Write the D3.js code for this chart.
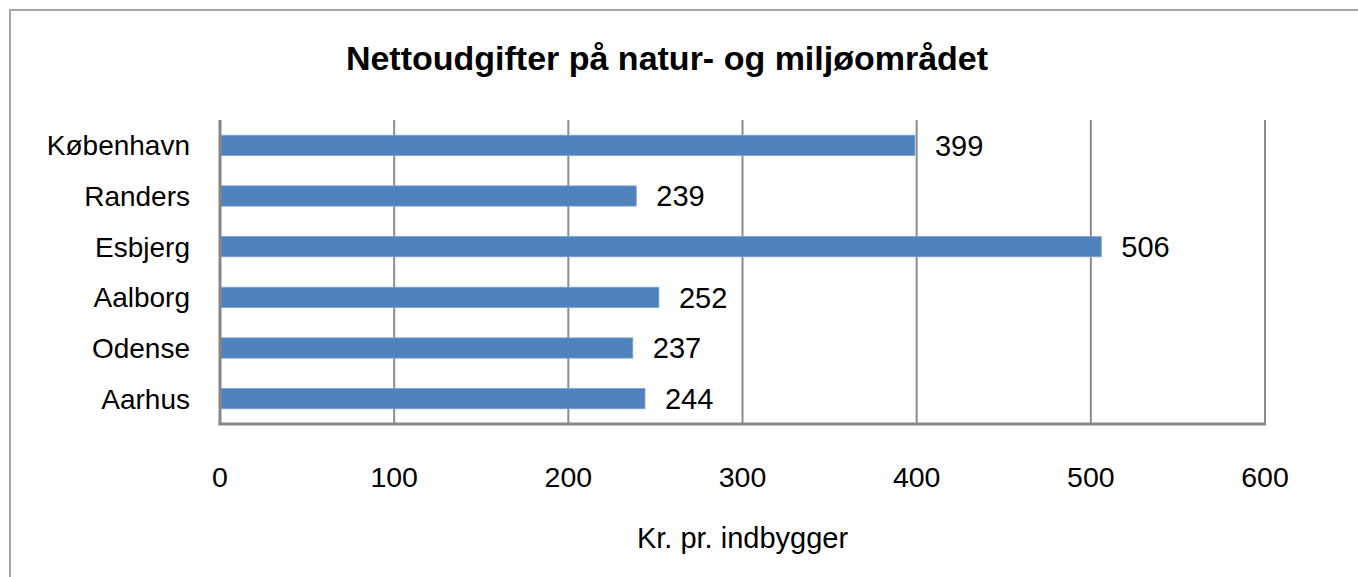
<!DOCTYPE html>
<html>
<head>
<meta charset="utf-8">
<script src="https://cdn.jsdelivr.net/npm/d3@7"></script>
<style>
  html, body { margin: 0; padding: 0; background: #fff; }
  svg { display: block; }
  text { font-family: "Liberation Sans", Arial, sans-serif; fill: #000; }
</style>
</head>
<body>
<svg id="chart" width="1358" height="577"></svg>
<script>
const categories = ["København", "Randers", "Esbjerg", "Aalborg", "Odense", "Aarhus"];
const values = [399, 239, 506, 252, 237, 244];
const tickValues = [0, 100, 200, 300, 400, 500, 600];
const title = "Nettoudgifter på natur- og miljøområdet";
const xTitle = "Kr. pr. indbygger";

const svg = d3.select("#chart");
const plot = { left: 220, right: 1265, top: 120, bottom: 424 };

// outer chart border (extends past right/bottom edges)
svg.append("rect")
  .attr("x", 10).attr("y", 10)
  .attr("width", 1400).attr("height", 700)
  .attr("fill", "none").attr("stroke", "#a6a6a6").attr("stroke-width", 2);

const x = d3.scaleLinear().domain([0, 600]).range([plot.left, plot.right]);
const y = d3.scaleBand().domain(categories).range([plot.top, plot.bottom]).paddingInner(0.6).paddingOuter(0.3);

// gridlines
svg.append("g").selectAll("line")
  .data(tickValues.filter(d => d > 0))
  .join("line")
  .attr("x1", d => x(d)).attr("x2", d => x(d))
  .attr("y1", plot.top).attr("y2", plot.bottom)
  .attr("stroke", "#8c8c8c").attr("stroke-width", 2);

// bars
svg.append("g").selectAll("rect")
  .data(categories)
  .join("rect")
  .attr("x", x(0))
  .attr("y", d => y(d))
  .attr("width", (d, i) => x(values[i]) - x(0))
  .attr("height", y.bandwidth())
  .attr("fill", "#4f81bd")
  .attr("stroke", "#7fa3d1").attr("stroke-width", 0.8);

// axes lines
svg.append("line")
  .attr("x1", plot.left).attr("x2", plot.left)
  .attr("y1", plot.top).attr("y2", plot.bottom + 1)
  .attr("stroke", "#868686").attr("stroke-width", 3);
svg.append("line")
  .attr("x1", plot.left - 1.5).attr("x2", plot.right + 1)
  .attr("y1", plot.bottom).attr("y2", plot.bottom)
  .attr("stroke", "#868686").attr("stroke-width", 3);

// value labels
svg.append("g").selectAll("text")
  .data(categories)
  .join("text")
  .attr("x", (d, i) => x(values[i]) + 20)
  .attr("y", d => y(d) + y.bandwidth() / 2)
  .attr("dy", "0.36em")
  .attr("font-size", 29)
  .text((d, i) => values[i]);

// category labels
svg.append("g").selectAll("text")
  .data(categories)
  .join("text")
  .attr("x", 190)
  .attr("y", d => y(d) + y.bandwidth() / 2)
  .attr("dy", "0.36em")
  .attr("text-anchor", "end")
  .attr("font-size", 28)
  .text(d => d);

// x tick labels
svg.append("g").selectAll("text")
  .data(tickValues)
  .join("text")
  .attr("x", d => x(d))
  .attr("y", 487)
  .attr("text-anchor", "middle")
  .attr("font-size", 28.5)
  .text(d => d);

// axis title
svg.append("text")
  .attr("x", (plot.left + plot.right) / 2)
  .attr("y", 548)
  .attr("text-anchor", "middle")
  .attr("font-size", 29)
  .text(xTitle);

// chart title
svg.append("text")
  .attr("x", 667)
  .attr("y", 70)
  .attr("text-anchor", "middle")
  .attr("font-size", 34)
  .attr("font-weight", "bold")
  .text(title);
</script>
</body>
</html>
